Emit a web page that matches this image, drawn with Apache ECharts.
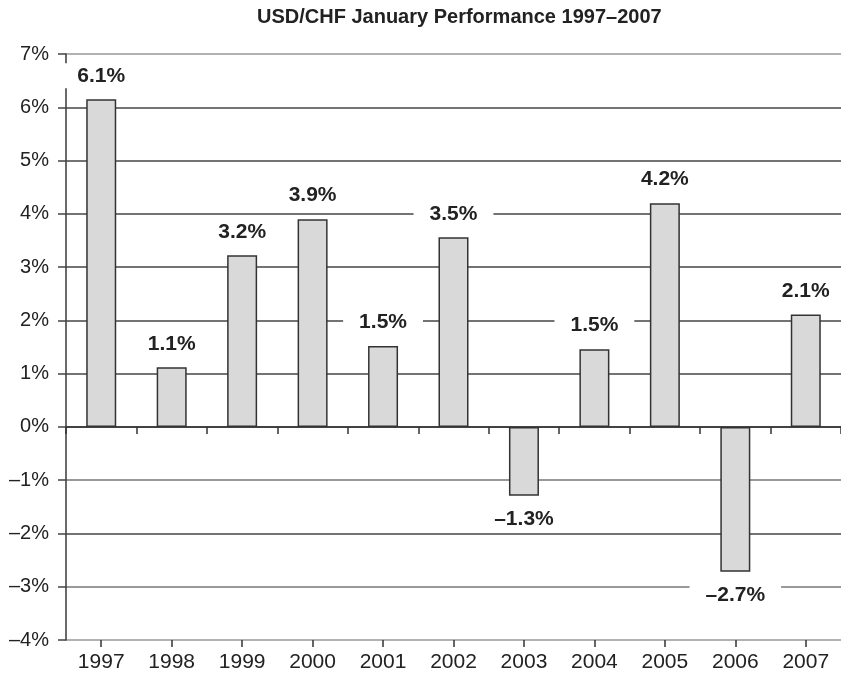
<!DOCTYPE html>
<html>
<head>
<meta charset="utf-8">
<script src="https://cdn.jsdelivr.net/npm/echarts@6/dist/echarts.min.js"></script>
<style>
html,body{margin:0;padding:0;background:#fff;}
#chart{width:841px;height:675px;}
</style>
</head>
<body>
<div id="chart"></div>
<script>
const categories = ['1997','1998','1999','2000','2001','2002','2003','2004','2005','2006','2007'];
const values = [6.15, 1.12, 3.22, 3.9, 1.52, 3.56, -1.29, 1.46, 4.2, -2.72, 2.11];
const valueLabels = ['6.1%','1.1%','3.2%','3.9%','1.5%','3.5%','–1.3%','1.5%','4.2%','–2.7%','2.1%'];
const yMin = -4, yMax = 7, yStep = 1;
const titleText = 'USD/CHF January Performance 1997–2007';

const FONT = '"Liberation Sans", Arial, Helvetica, sans-serif';
const gridColors = [];
for (let v = yMin; v <= yMax; v += yStep) {
  let c = '#444';
  if (v === yMax || v === yMin) c = '#999';
  else if (v === -1 || v === -3) c = '#777';
  gridColors.push(c);
}

const chart = echarts.init(document.getElementById('chart'), null, {renderer: 'canvas'});
const fmtPct = v => (v < 0 ? '–' + Math.abs(v) : String(v)) + '%';

const option = {
  backgroundColor: '#fff',
  animation: false,
  title: {
    text: titleText,
    left: 257, top: 7, padding: 0,
    textStyle: {fontFamily: FONT, fontSize: 20, fontWeight: 'bold', color: '#222'}
  },
  grid: {left: 66, top: 54, width: 781, bottom: 35, containLabel: false},
  xAxis: [
    {
      type: 'category', data: categories, position: 'bottom',
      axisLine: {onZero: true, lineStyle: {color: '#333', width: 1.6}},
      axisTick: {show: true, inside: false, length: 7, lineStyle: {color: '#333', width: 1.5}},
      axisLabel: {show: false},
      splitLine: {show: false}
    },
    {
      type: 'category', data: categories, position: 'bottom',
      axisLine: {show: false, onZero: true},
      axisTick: {show: true, alignWithLabel: true, length: 7, lineStyle: {color: '#333', width: 1.5}},
      axisLabel: {show: false},
      splitLine: {show: false}
    },
    {
      type: 'category', data: categories, position: 'bottom',
      axisLine: {show: false, onZero: false},
      axisTick: {show: false},
      axisLabel: {show: true, margin: 12, fontFamily: FONT, fontSize: 21, color: '#222'},
      splitLine: {show: false}
    }
  ],
  yAxis: {
    type: 'value', min: yMin, max: yMax, interval: yStep,
    axisLine: {show: true, lineStyle: {color: '#444', width: 1.6}},
    axisTick: {show: true, length: 8, lineStyle: {color: '#444', width: 1.5}},
    axisLabel: {margin: 17, fontFamily: FONT, fontSize: 20, color: '#222', formatter: fmtPct},
    splitLine: {show: true, lineStyle: {color: gridColors, width: 1.6}}
  },
  series: [{
    type: 'bar',
    xAxisIndex: 0,
    data: values.map((v, i) => ({
      value: v,
      label: {position: v < 0 ? 'bottom' : 'top', distance: 11}
    })),
    barWidth: 30,
    itemStyle: {color: '#d9d9d9', borderColor: '#333', borderWidth: 1.5},
    label: {
      show: true,
      formatter: p => valueLabels[p.dataIndex],
      fontFamily: FONT, fontSize: 21, fontWeight: 'bold', color: '#222',
      backgroundColor: '#fff',
      padding: [2, 16, 2, 16]
    }
  }]
};
chart.setOption(option);
</script>
</body>
</html>
